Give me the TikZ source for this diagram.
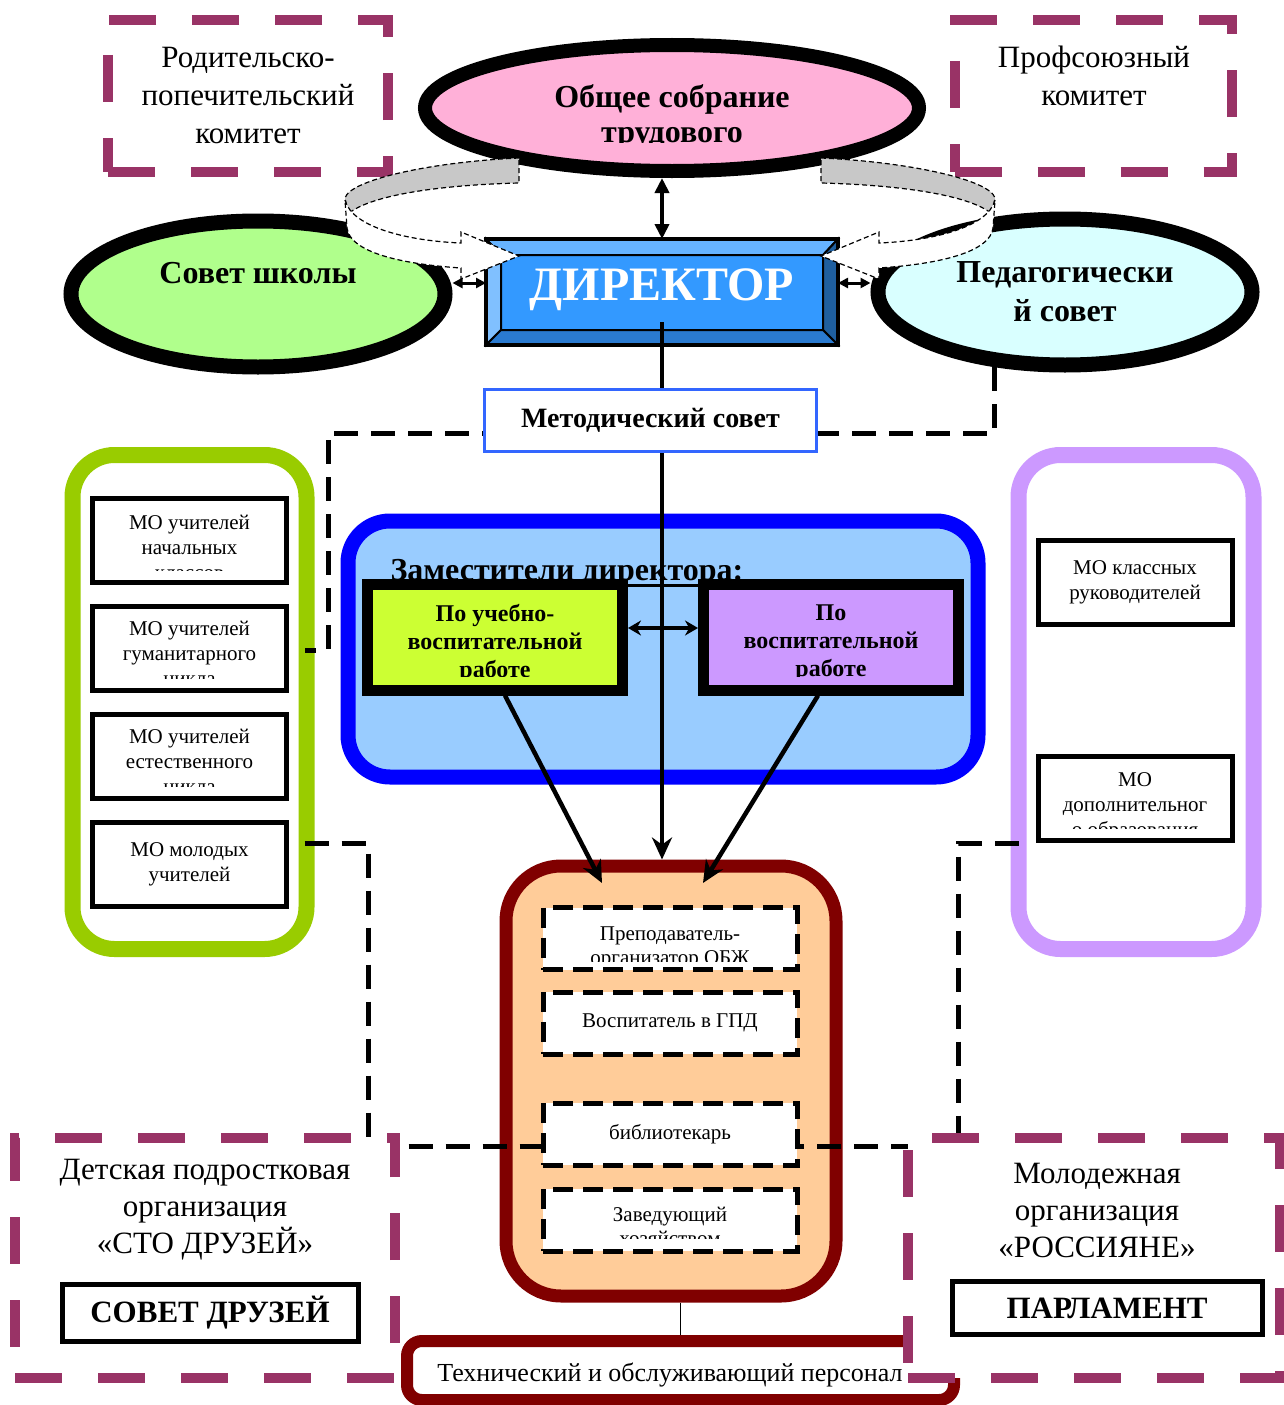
\documentclass[tikz,border=0pt]{standalone}
\usepackage{fontspec}
\setmainfont{Liberation Serif}
\usetikzlibrary{arrows.meta,shapes.geometric}

\definecolor{clrplum}{HTML}{993366}
\definecolor{clrrose}{HTML}{FFB0D8}
\definecolor{clrmint}{HTML}{B0FF8C}
\definecolor{clrsky}{HTML}{D9FFFF}
\definecolor{clrdir}{HTML}{3399FF}
\definecolor{clrdirtop}{HTML}{66B3FF}
\definecolor{clrdirleft}{HTML}{80C0FF}
\definecolor{clrdirright}{HTML}{1F5F9F}
\definecolor{clrdirbottom}{HTML}{2A7AD0}
\definecolor{clrmetod}{HTML}{3366FF}
\definecolor{clrdepfill}{HTML}{99CCFF}
\definecolor{clrdepline}{HTML}{0000FF}
\definecolor{clryellow}{HTML}{CCFF33}
\definecolor{clrviolet}{HTML}{CC99FF}
\definecolor{clrolive}{HTML}{99CC00}
\definecolor{clrpeach}{HTML}{FFCC99}
\definecolor{clrmaroon}{HTML}{800000}
\definecolor{clrgrey}{HTML}{C8C8C8}

\newcommand{\fs}[2]{\fontsize{#1}{#2}\selectfont}

\begin{document}
\begin{tikzpicture}[x=1pt,y=-1pt,
  oval/.style={ellipse, draw, line width=15pt, minimum width=374pt, minimum height=146pt},
  orgbox/.style={draw=clrplum, fill=white, line width=10pt, dash pattern=on 47pt off 36pt},
  mobox/.style={draw, fill=white, line width=5pt, minimum width=194pt, minimum height=84pt, font=\fs{21}{25}, align=center},
  staffbox/.style={draw, fill=white, line width=5pt, dash pattern=on 20pt off 10pt, minimum width=254pt, minimum height=62pt, font=\fs{21}{24}, align=center},
  depbox/.style={draw, line width=11pt, minimum width=255pt, minimum height=106pt},
  unitbox/.style={draw, fill=white, line width=16pt, rounded corners=42pt},
  link/.style={line width=5pt, dash pattern=on 24pt off 13pt},
  ring/.style={draw, line width=1.2pt, dash pattern=on 5pt off 3pt},
  arr/.style={line width=4.5pt, -{Stealth[length=22pt, width=20pt]}},
  twoway/.style={line width=3pt, {Triangle[length=10pt, width=10pt]}-{Triangle[length=10pt, width=10pt]}},
]

\fill[white] (0,0) rectangle (1284,1405);
\useasboundingbox (0,0) rectangle (1284,1405);

% Committees at the top
\node[orgbox, minimum width=280pt, minimum height=152pt, align=center, font=\fs{31}{38}] (parents) at (248,96) {Родительско-\\попечительский\\комитет};
\node[orgbox, minimum width=277pt, minimum height=152pt] (union) at (1093,96) {};
\node[align=center, font=\fs{31}{38}] (uniontxt) at (1094,76) {Профсоюзный\\комитет};

% Ellipses
\node[oval, fill=clrrose, line width=14pt, minimum width=494pt, minimum height=126pt] (general) at (672,108) {};
\begin{scope}
  \clip (430,50) rectangle (915,142);
  \node[align=center, font=\bfseries\fs{32}{35}] (generaltxt) at (672,117) {Общее собрание\\трудового};
\end{scope}
\node[oval, fill=clrmint] (council) at (258,294) {};
\node[font=\bfseries\fs{32}{38}] (counciltxt) at (258,273) {Совет школы};
\node[oval, fill=clrsky, align=center, font=\bfseries\fs{32}{39}] (pedsovet) at (1065,292) {Педагогически\\й совет};

% Director
\node[draw, line width=4pt, fill=clrdir, outer sep=0pt, minimum width=352pt, minimum height=106pt] (dir) at (662,292) {};
\coordinate (nwi) at ([shift={(15,16)}]dir.north west);
\coordinate (nei) at ([shift={(-15,16)}]dir.north east);
\coordinate (sei) at ([shift={(-15,-15)}]dir.south east);
\coordinate (swi) at ([shift={(15,-15)}]dir.south west);
\filldraw[fill=clrdirtop, line width=2pt] (dir.north west) -- (dir.north east) -- (nei) -- (nwi) -- cycle;
\filldraw[fill=clrdirleft, line width=2pt] (dir.north west) -- (nwi) -- (swi) -- (dir.south west) -- cycle;
\filldraw[fill=clrdirright, line width=2pt] (dir.north east) -- (nei) -- (sei) -- (dir.south east) -- cycle;
\filldraw[fill=clrdirbottom, line width=2pt] (dir.south west) -- (swi) -- (sei) -- (dir.south east) -- cycle;
\draw[line width=4pt] (dir.north west) rectangle (dir.south east);
\node[text=white, font=\bfseries\fs{48}{50}] (dirtxt) at (662,290) {ДИРЕКТОР};

% Curved arrows round the director
\path[ring, fill=clrgrey] (519,158) .. controls (430,162) and (350,180) .. (345,198) -- (348,214) .. controls (370,195) and (440,185) .. (519,183) -- cycle;
\path[ring, fill=white] (345,200) .. controls (352,228) and (410,241) .. (461,243) -- (461,232) -- (519,256) -- (461,279) -- (461,268) .. controls (400,264) and (350,252) .. (347,228) -- cycle;
\begin{scope}[xshift=1340pt, xscale=-1]
  \path[ring, fill=clrgrey] (519,158) .. controls (430,162) and (350,180) .. (345,198) -- (348,214) .. controls (370,195) and (440,185) .. (519,183) -- cycle;
  \path[ring, fill=white] (345,200) .. controls (352,228) and (410,241) .. (461,243) -- (461,232) -- (519,256) -- (461,279) -- (461,268) .. controls (400,264) and (350,252) .. (347,228) -- cycle;
\end{scope}

\draw[line width=4pt, {Triangle[length=15pt, width=14pt]}-{Triangle[length=15pt, width=14pt]}] (dir.north |- general.south) -- (dir.north);
\draw[twoway] ([yshift=9pt]dir.west) -- ([yshift=11pt]council.east);
\draw[twoway] ([yshift=9pt]dir.east) -- ([yshift=9pt]pedsovet.west);

% Groups
\node[unitbox, draw=clrolive, minimum width=234pt, minimum height=494pt] (mogroup) at (189.5,702) {};
\node[unitbox, draw=clrviolet, minimum width=235pt, minimum height=494pt] (classgroup) at (1136,702) {};
\node[unitbox, draw=clrdepline, fill=clrdepfill, line width=15pt, minimum width=630pt, minimum height=256pt] (deputies) at (663,649) {};
\node[unitbox, draw=clrmaroon, fill=clrpeach, line width=13pt, rounded corners=55pt, minimum width=330pt, minimum height=430pt] (staff) at (671,1081) {};

% Deputies
\node[anchor=base west, font=\bfseries\fs{32}{36}] (deptitle) at (387,580) {Заместители директора:};
\node[depbox, fill=clryellow] (dep1) at (495,637) {};
\node[depbox, fill=clrviolet] (dep2) at (831,637) {};
\draw[line width=3pt] ([yshift=-7pt]dep1.north east) -- ([yshift=-7pt]dep2.north west);
\begin{scope}
  \clip (372,589) rectangle (617,676);
  \node[align=center, font=\bfseries\fs{24}{28}] (dep1txt) at (495,643) {По учебно-\\воспитательной\\работе};
\end{scope}
\begin{scope}
  \clip (709,589) rectangle (953,676);
  \node[align=center, font=\bfseries\fs{24}{28}] (dep2txt) at (831,643) {По\\воспитательной\\работе};
\end{scope}
\draw[line width=3.5pt, {Stealth[length=13pt, width=15pt]}-{Stealth[length=13pt, width=15pt]}] ([yshift=9pt]dep1.east) -- ([yshift=9pt]dep2.west);

% Methodical units
\node[mobox] (mo1) at (189.5,540) {};
\node[mobox] (mo2) at (189.5,648) {};
\node[mobox] (mo3) at (189.5,756) {};
\node[mobox] (mo4) at (189.5,864) {МО молодых\\учителей};
\begin{scope}
  \clip (mo1.north west) rectangle ([yshift=14pt]mo1.south east);
  \node[align=center, font=\fs{21}{25}] (mo1txt) at (189.5,547) {МО учителей\\начальных\\классов};
\end{scope}
\begin{scope}
  \clip (mo2.north west) rectangle ([yshift=14pt]mo2.south east);
  \node[align=center, font=\fs{21}{25}] (mo2txt) at (189.5,655) {МО учителей\\гуманитарного\\цикла};
\end{scope}
\begin{scope}
  \clip (mo3.north west) rectangle ([yshift=14pt]mo3.south east);
  \node[align=center, font=\fs{21}{25}] (mo3txt) at (189.5,763) {МО учителей\\естественного\\цикла};
\end{scope}
\node[mobox] (cls1) at (1135,582.5) {МО классных\\руководителей};
\node[mobox] (cls2) at (1135,798.5) {};
\begin{scope}
  \clip (cls2.north west) rectangle ([yshift=15pt]cls2.south east);
  \node[align=center, font=\fs{21}{25}] (cls2txt) at (1135,807) {МО\\дополнительног\\о образования};
\end{scope}

% Staff
\node[staffbox] (obzh) at (670,938.5) {};
\node[staffbox] (gpd) at (670,1023) {Воспитатель в ГПД};
\node[staffbox] (lib) at (670,1134) {библиотекарь};
\node[staffbox] (supply) at (670,1220) {};
\begin{scope}
  \clip (obzh.north west) rectangle ([yshift=11pt]obzh.south east);
  \node[align=center, font=\fs{21}{24}] (obzhtxt) at (670,948) {Преподаватель-\\организатор ОБЖ};
\end{scope}
\begin{scope}
  \clip (supply.north west) rectangle ([yshift=15pt]supply.south east);
  \node[align=center, font=\fs{21}{24}] (supplytxt) at (670,1226) {Заведующий\\хозяйством};
\end{scope}

% Arrows down
\coordinate (inL) at (602,883);
\coordinate (inR) at (703,883);
\draw[arr] ([yshift=-30pt]dir.center) -- (dir.center |- staff.north);
\draw[arr] ([xshift=10pt]dep1.south) -- (inL);
\draw[arr] ([xshift=-13pt]dep2.south) -- (inR);

% Dashed links
\coordinate (bendT) at (328,433);
\coordinate (bendL) at (368,1146);
\coordinate (bendR) at (958,1146);
\draw[link] (pedsovet.227) |- (bendT) |- ([shift={(-10,-52)}]mogroup.east);
\draw[link] ([shift={(-10,141)}]mogroup.east) -| (bendL) -- (bendL -| lib.west);
\draw[link] ([shift={(8,141)}]classgroup.west) -| (bendR) -- (bendR -| lib.east);

\node[draw=clrmetod, fill=white, line width=3pt, minimum width=332pt, minimum height=62pt, font=\bfseries\fs{28}{30}] (metod) at (650.5,420.5) {Методический совет};

% Bottom
\node[draw=clrmaroon, fill=white, line width=12pt, rounded corners=15pt, minimum width=547pt, minimum height=59pt] (tech) at (680.5,1370.5) {};
\draw[line width=1.5pt] (tech.north |- staff.south) -- (tech.north);
\node[orgbox, minimum width=380pt, minimum height=240pt] (kids) at (205,1258) {};
\node[align=center, font=\fs{31}{37}] (kidstxt) at (205,1210) {Детская подростковая\\организация\\«СТО ДРУЗЕЙ»};
\node[draw, fill=white, line width=5pt, minimum width=296pt, minimum height=57pt, font=\bfseries\fs{31}{33}] (friends) at (210,1313) {СОВЕТ ДРУЗЕЙ};
\node[orgbox, minimum width=372pt, minimum height=240pt] (youth) at (1094,1258) {};
\node[align=center, font=\fs{31}{37}] (youthtxt) at (1097,1210) {Молодежная\\организация\\«РОССИЯНЕ»};
\node[draw, fill=white, line width=5pt, minimum width=310pt, minimum height=53pt, font=\bfseries\fs{31}{33}] (parliament) at (1107,1308) {ПАРЛАМЕНТ};
\node[font=\fs{26}{28}] (techtxt) at (670,1375) {Технический и обслуживающий персонал};

\end{tikzpicture}
\end{document}
